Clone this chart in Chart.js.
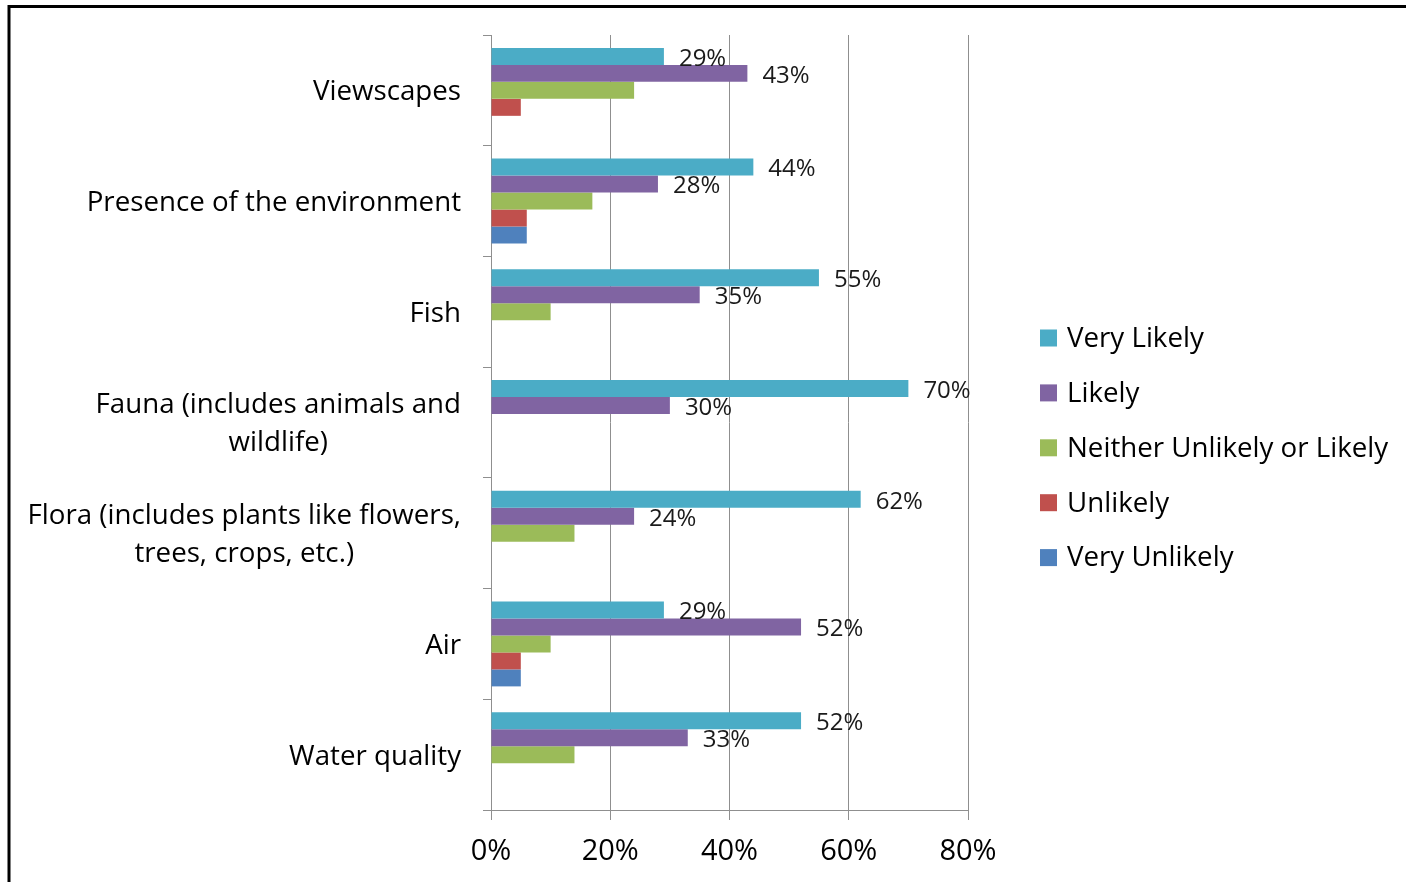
<!DOCTYPE html>
<html>
<head>
<meta charset="utf-8">
<title>Likelihood by environmental feature</title>
<script src="https://cdn.jsdelivr.net/npm/chart.js@4.4.0/dist/chart.umd.min.js"></script>
<style>
    html, body { margin: 0; padding: 0; background: #fff; }
    #wrap { width: 1406px; height: 882px; position: relative; }
</style>
</head>
<body>
<div id="wrap"><canvas id="surveyChart" width="1406" height="882"></canvas></div>
<script>
// Chart data
const categories = [
    'Viewscapes',
    'Presence of the environment',
    'Fish',
    ['Fauna (includes animals and', 'wildlife)'],
    ['Flora (includes plants like flowers,', 'trees, crops, etc.)'],
    'Air',
    'Water quality'
];
const seriesNames = ['Very Likely', 'Likely', 'Neither Unlikely or Likely', 'Unlikely', 'Very Unlikely'];
const seriesColors = ['#4BACC6', '#8064A2', '#9BBB59', '#C0504D', '#4F81BD'];
const veryLikely = [29, 44, 55, 70, 62, 29, 52];
const likely = [43, 28, 35, 30, 24, 52, 33];
const neither = [24, 17, 10, 0, 14, 10, 14];
const unlikely = [5, 6, 0, 0, 0, 5, 0];
const veryUnlikely = [0, 6, 0, 0, 0, 5, 0];
const labelledSeries = [0, 1];
const xMax = 80;
const xStep = 20;

const FONT_FAMILY = '"Open Sans", "DejaVu Sans", sans-serif';
const GRID_COLOR = '#8f8f8f';

/**
 * White background and the black frame on top/left
 */
const framePlugin = {
    id: 'frame',
    beforeDraw(chart) {
        const ctx = chart.ctx;
        ctx.save();
        ctx.fillStyle = '#fff';
        ctx.fillRect(0, 0, chart.width, chart.height);
        ctx.strokeStyle = '#000';
        ctx.lineWidth = 3;
        ctx.beginPath();
        ctx.moveTo(9, chart.height);
        ctx.lineTo(9, 6.5);
        ctx.lineTo(chart.width, 6.5);
        ctx.stroke();
        ctx.restore();
    }
};

/**
 * Category labels: block right aligned, lines centred on each other (Excel style)
 */
const categoryLabelPlugin = {
    id: 'categoryLabels',
    afterDraw(chart) {
        const ctx = chart.ctx;
        const yScale = chart.scales.y;
        ctx.save();
        ctx.font = '27.7px ' + FONT_FAMILY;
        ctx.fillStyle = '#000';
        ctx.textAlign = 'center';
        ctx.textBaseline = 'middle';
        categories.forEach((label, i) => {
            const lines = Array.isArray(label) ? label : [label];
            const widest = Math.max(...lines.map(l => ctx.measureText(l).width));
            const cx = yScale.right - 30 - widest / 2;
            const cy = yScale.getPixelForTick(i) + 2;
            lines.forEach((line, j) => {
                ctx.fillText(line, cx, cy + (j - (lines.length - 1) / 2) * 38);
            });
        });
        ctx.restore();
    }
};

/**
 * Value labels for the first two series
 */
const valueLabelPlugin = {
    id: 'valueLabels',
    afterDatasetsDraw(chart) {
        const ctx = chart.ctx;
        ctx.save();
        ctx.font = '24px ' + FONT_FAMILY;
        ctx.fillStyle = '#1a1a1a';
        ctx.textAlign = 'left';
        ctx.textBaseline = 'middle';
        labelledSeries.forEach(di => {
            const meta = chart.getDatasetMeta(di);
            const values = chart.data.datasets[di].data;
            meta.data.forEach((bar, i) => {
                ctx.fillText(values[i] + '%', bar.x + 15, bar.y + 2.5);
            });
        });
        ctx.restore();
    }
};

/**
 * Legend on the right
 */
const legendPlugin = {
    id: 'sideLegend',
    afterDraw(chart) {
        const ctx = chart.ctx;
        ctx.save();
        ctx.font = '27.7px ' + FONT_FAMILY;
        ctx.textAlign = 'left';
        ctx.textBaseline = 'middle';
        chart.data.datasets.forEach((ds, i) => {
            const cy = 338 + i * 54.9;
            ctx.fillStyle = ds.backgroundColor;
            ctx.fillRect(1040, cy - 8.5, 17, 17);
            ctx.fillStyle = '#000';
            ctx.fillText(ds.label, 1067, cy + 1);
        });
        ctx.restore();
    }
};

const seriesData = [veryLikely, likely, neither, unlikely, veryUnlikely];

new Chart(document.getElementById('surveyChart'), {
    type: 'bar',
    data: {
        labels: categories,
        datasets: seriesData.map((values, i) => ({
            label: seriesNames[i],
            data: values,
            backgroundColor: seriesColors[i],
            borderWidth: 0,
            categoryPercentage: 0.767,
            barPercentage: 1.0
        }))
    },
    options: {
        indexAxis: 'y',
        responsive: false,
        animation: false,
        layout: {
            padding: { top: 35, right: 438, bottom: 0, left: 0 }
        },
        plugins: {
            legend: { display: false },
            tooltip: { enabled: false }
        },
        scales: {
            x: {
                type: 'linear',
                min: 0,
                max: xMax,
                ticks: {
                    stepSize: xStep,
                    color: '#000',
                    padding: 14,
                    font: { family: FONT_FAMILY, size: 29 },
                    callback: function(value) {
                        return value + '%';
                    }
                },
                grid: {
                    color: GRID_COLOR,
                    lineWidth: 1,
                    tickLength: 10
                },
                border: { color: GRID_COLOR, width: 1 },
                afterFit: function(scale) {
                    scale.height = 72;
                }
            },
            y: {
                type: 'category',
                ticks: { display: false },
                grid: {
                    offset: true,
                    drawOnChartArea: false,
                    drawTicks: true,
                    tickLength: 8,
                    color: GRID_COLOR,
                    lineWidth: 1
                },
                border: { color: GRID_COLOR, width: 1 },
                afterFit: function(scale) {
                    scale.width = 491;
                }
            }
        }
    },
    plugins: [framePlugin, categoryLabelPlugin, valueLabelPlugin, legendPlugin]
});
</script>
</body>
</html>
